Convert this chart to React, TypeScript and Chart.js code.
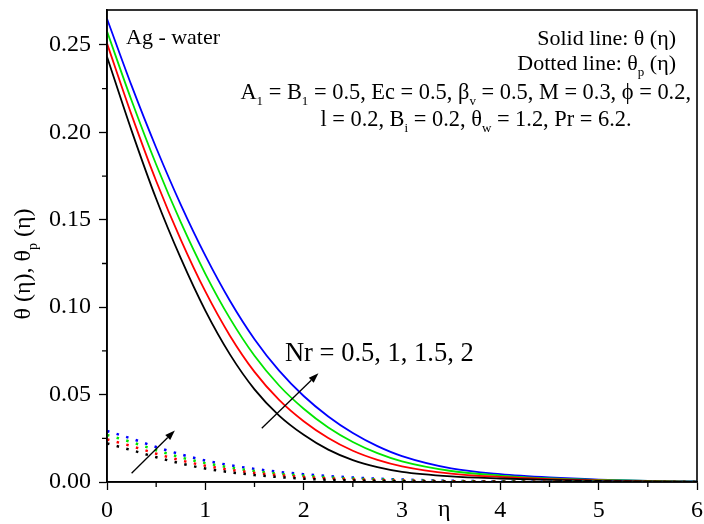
import React, { useEffect, useRef } from 'react';
import { Chart, registerables } from 'chart.js';

Chart.register(...registerables);

// eta grid
const eta = [0, 0.25, 0.5, 0.75, 1, 1.25, 1.5, 1.75, 2, 2.25, 2.5, 2.75, 3, 3.5, 4, 4.5, 5, 5.5, 6];

// Fluid temperature theta(eta), Nr = 0.5, 1, 1.5, 2
const thetaNr05 = [0.2433, 0.2010, 0.1620, 0.1280, 0.0980, 0.0730, 0.0530, 0.0380, 0.0270, 0.0185, 0.0125, 0.0085, 0.0058, 0.0032, 0.0020, 0.0012, 0.0007, 0.0003, 0];
const thetaNr1 = [0.2509, 0.2100, 0.1722, 0.1387, 0.1090, 0.0837, 0.0630, 0.0470, 0.0348, 0.0252, 0.0179, 0.0127, 0.0090, 0.0048, 0.0029, 0.0017, 0.0009, 0.0004, 0.0001];
const thetaNr15 = [0.2578, 0.2182, 0.1816, 0.1486, 0.1191, 0.0936, 0.0722, 0.0552, 0.0419, 0.0312, 0.0229, 0.0165, 0.0118, 0.0063, 0.0037, 0.0021, 0.0012, 0.0006, 0.0002];
const thetaNr2 = [0.2650, 0.2267, 0.1912, 0.1587, 0.1295, 0.1037, 0.0817, 0.0637, 0.0492, 0.0375, 0.0280, 0.0205, 0.0148, 0.0078, 0.0045, 0.0026, 0.0014, 0.0007, 0.0003];

// Particle temperature theta_p(eta)
const thetaPNr05 = [0.0221, 0.0182, 0.0142, 0.0106, 0.0077, 0.0056, 0.0040, 0.0028, 0.0019, 0.0013, 0.0009, 0.0006, 0.0004, 0.0002, 0.0001, 0.00005, 0, 0, 0];
const thetaPNr1 = [0.0244, 0.0205, 0.0162, 0.0124, 0.0093, 0.0070, 0.0052, 0.0039, 0.0028, 0.0020, 0.0015, 0.0011, 0.0008, 0.0004, 0.0002, 0.0001, 0.00004, 0.00002, 0];
const thetaPNr15 = [0.0269, 0.0228, 0.0182, 0.0141, 0.0108, 0.0083, 0.0063, 0.0048, 0.0036, 0.0027, 0.0020, 0.0015, 0.0011, 0.0005, 0.0003, 0.00015, 0.00007, 0.00003, 0];
const thetaPNr2 = [0.0292, 0.0248, 0.0200, 0.0158, 0.0123, 0.0096, 0.0075, 0.0058, 0.0045, 0.0034, 0.0026, 0.0019, 0.0014, 0.0007, 0.0004, 0.0002, 0.0001, 0.00005, 0];

const seriesColors = ['#000000', '#ff0000', '#00e600', '#0000ff'];
const xTicks = [0, 1, 2, 3, 4, 5, 6];
const yTicks = [0, 0.05, 0.1, 0.15, 0.2, 0.25];
const xMinor = [0.5, 1.5, 2.5, 3.5, 4.5, 5.5];
const yMinor = [0.025, 0.075, 0.125, 0.175, 0.225];

const FONT = '"Liberation Serif", "Times New Roman", serif';

type Part = [string, boolean?];

function richWidth(ctx: CanvasRenderingContext2D, parts: Part[], size: number) {
  let w = 0;
  for (const [t, sub] of parts) {
    ctx.font = `${sub ? Math.round(size * 0.6) : size}px ${FONT}`;
    w += ctx.measureText(t).width;
  }
  return w;
}

function drawRich(ctx: CanvasRenderingContext2D, x: number, y: number, parts: Part[], size: number, align: 'left' | 'right' | 'center' = 'left') {
  const w = richWidth(ctx, parts, size);
  let cx = align === 'left' ? x : align === 'right' ? x - w : x - w / 2;
  ctx.textAlign = 'left';
  ctx.textBaseline = 'alphabetic';
  for (const [t, sub] of parts) {
    const s = sub ? Math.round(size * 0.6) : size;
    ctx.font = `${s}px ${FONT}`;
    ctx.fillText(t, cx, sub ? y + size * 0.28 : y);
    cx += ctx.measureText(t).width;
  }
}

function arrow(ctx: CanvasRenderingContext2D, x1: number, y1: number, x2: number, y2: number) {
  ctx.save();
  ctx.strokeStyle = '#000';
  ctx.fillStyle = '#000';
  ctx.lineWidth = 1.3;
  const ang = Math.atan2(y2 - y1, x2 - x1);
  const hl = 10, hw = 3.5;
  const bx = x2 - hl * Math.cos(ang), by = y2 - hl * Math.sin(ang);
  ctx.beginPath();
  ctx.moveTo(x1, y1);
  ctx.lineTo(bx, by);
  ctx.stroke();
  ctx.beginPath();
  ctx.moveTo(x2, y2);
  ctx.lineTo(bx + hw * Math.sin(ang), by - hw * Math.cos(ang));
  ctx.lineTo(bx - hw * Math.sin(ang), by + hw * Math.cos(ang));
  ctx.closePath();
  ctx.fill();
  ctx.restore();
}

const decorPlugin = {
  id: 'decor',
  afterDraw(chart: any) {
    const ctx: CanvasRenderingContext2D = chart.ctx;
    const { left, right, top, bottom } = chart.chartArea;
    const xs = chart.scales.x, ys = chart.scales.y;
    ctx.save();
    // frame
    ctx.strokeStyle = '#000';
    ctx.lineWidth = 1.6;
    ctx.strokeRect(left, top, right - left, bottom - top);
    // minor ticks
    ctx.lineWidth = 1.3;
    ctx.beginPath();
    for (const v of xMinor) {
      const px = xs.getPixelForValue(v);
      ctx.moveTo(px, bottom);
      ctx.lineTo(px, bottom + 5);
    }
    for (const v of yMinor) {
      const py = ys.getPixelForValue(v);
      ctx.moveTo(left, py);
      ctx.lineTo(left - 5, py);
    }
    ctx.stroke();

    ctx.fillStyle = '#000';
    // texts
    drawRich(ctx, 126, 44, [['Ag - water']], 22);
    drawRich(ctx, 676, 45, [['Solid line: θ (η)']], 22, 'right');
    drawRich(ctx, 676, 70, [['Dotted line: θ'], ['p', true], [' (η)']], 22, 'right');
    drawRich(ctx, 691, 99, [['A'], ['1', true], [' = B'], ['1', true], [' = 0.5, Ec = 0.5, β'], ['v', true], [' = 0.5, M = 0.3, ϕ = 0.2,']], 22.4, 'right');
    drawRich(ctx, 476, 126, [['l = 0.2, B'], ['i', true], [' = 0.2, θ'], ['w', true], [' = 1.2, Pr = 6.2.']], 22.4, 'center');
    drawRich(ctx, xs.getPixelForValue(1.81), ys.getPixelForValue(0.0695), [['Nr = 0.5, 1, 1.5, 2']], 26.5);

    // arrows
    arrow(ctx, xs.getPixelForValue(1.574), ys.getPixelForValue(0.0307), xs.getPixelForValue(2.15), ys.getPixelForValue(0.0622));
    arrow(ctx, xs.getPixelForValue(0.25), ys.getPixelForValue(0.005), xs.getPixelForValue(0.69), ys.getPixelForValue(0.0295));

    // axis titles
    drawRich(ctx, xs.getPixelForValue(3.43), 516, [['η']], 24, 'center');
    ctx.save();
    ctx.translate(30, 264);
    ctx.rotate(-Math.PI / 2);
    drawRich(ctx, 0, 0, [['θ (η), θ'], ['p', true], [' (η)']], 24, 'center');
    ctx.restore();
    ctx.restore();
  },
};

export default function App() {
  const ref = useRef<HTMLCanvasElement | null>(null);
  useEffect(() => {
    document.body.style.margin = '0';
    const mk = (arr: number[]) => eta.map((x, i) => ({ x, y: arr[i] }));
    const solid = [thetaNr05, thetaNr1, thetaNr15, thetaNr2];
    const dotted = [thetaPNr05, thetaPNr1, thetaPNr15, thetaPNr2];
    const labels = ['Nr = 0.5', 'Nr = 1', 'Nr = 1.5', 'Nr = 2'];
    const datasets: any[] = [];
    dotted.forEach((arr, i) => datasets.push({
      label: 'θp ' + labels[i], data: mk(arr), borderColor: seriesColors[i], borderWidth: 2.5,
      borderDash: [2.5, 7.5], pointRadius: 0, cubicInterpolationMode: 'monotone', fill: false,
    }));
    solid.forEach((arr, i) => datasets.push({
      label: 'θ ' + labels[i], data: mk(arr), borderColor: seriesColors[i], borderWidth: 1.8,
      pointRadius: 0, cubicInterpolationMode: 'monotone', fill: false,
    }));
    const tickFont = { family: FONT, size: 24 };
    const chart = new Chart(ref.current!, {
      type: 'line',
      data: { datasets },
      plugins: [decorPlugin],
      options: {
        animation: false,
        responsive: false,
        layout: { padding: { top: 10, right: 7, left: 0, bottom: 0 } },
        plugins: { legend: { display: false }, tooltip: { enabled: false } },
        scales: {
          x: {
            type: 'linear', min: 0, max: 6,
            afterBuildTicks: (s: any) => { s.ticks = xTicks.map((v) => ({ value: v })); },
            afterFit: (s: any) => { s.height = 42; s.paddingLeft = 0; s.paddingRight = 0; },
            ticks: { font: tickFont, color: '#000', padding: 6, maxRotation: 0 },
            grid: { drawOnChartArea: false, tickLength: 8, color: '#000', tickWidth: 1.3 },
            border: { color: '#000', width: 1.6 },
          },
          y: {
            type: 'linear', min: 0, max: 0.27,
            afterBuildTicks: (s: any) => { s.ticks = yTicks.map((v) => ({ value: v })); },
            afterFit: (s: any) => { s.width = 107; s.paddingTop = 0; s.paddingBottom = 0; },
            ticks: { font: tickFont, color: '#000', padding: 8, callback: (v: any) => Number(v).toFixed(2) },
            grid: { drawOnChartArea: false, tickLength: 8, color: '#000', tickWidth: 1.3 },
            border: { color: '#000', width: 1.6 },
          },
        },
      },
    });
    return () => chart.destroy();
  }, []);
  return (
    <div style={{ width: 704, height: 524, background: '#fff' }}>
      <canvas ref={ref} width={704} height={524} style={{ display: 'block' }} />
    </div>
  );
}
